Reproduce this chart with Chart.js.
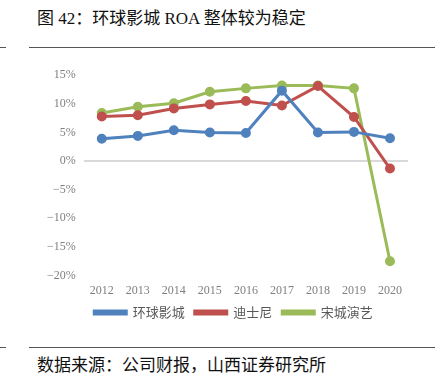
<!DOCTYPE html>
<html>
<head>
<meta charset="utf-8">
<script src="https://cdn.jsdelivr.net/npm/chart.js@4/dist/chart.umd.min.js"></script>
<style>
body { margin:0; background:#fff; width:443px; height:377px; position:relative; overflow:hidden; font-family:"Liberation Serif","Noto Sans CJK SC",serif; }
#title { position:absolute; left:37px; top:4px; font-size:17px; color:#111; }
.rule { position:absolute; height:1px; background:#555; }
#foot { position:absolute; left:37px; top:351px; font-size:17px; color:#111; font-family:"Noto Sans CJK SC",sans-serif; }
#box { position:absolute; left:30px; top:60px; width:400px; height:275px; }
</style>
</head>
<body>
<div id="title">图 42：环球影城 ROA 整体较为稳定</div>
<div class="rule" style="left:0;top:47px;width:6px"></div>
<div class="rule" style="left:29px;top:47px;width:406px"></div>
<div class="rule" style="left:0;top:347px;width:6px"></div>
<div class="rule" style="left:29px;top:347px;width:406px"></div>
<div id="box"><canvas id="myChart" width="400" height="275"></canvas></div>
<div id="foot">数据来源：公司财报，山西证券研究所</div>
<script>
// years along the x-axis
var years = ['2012','2013','2014','2015','2016','2017','2018','2019','2020'];
// ROA, %
var universal = [3.9,4.4,5.4,5.0,4.9,12.3,5.0,5.1,4.0];
var disney = [7.8,8.0,9.2,9.9,10.5,9.7,13.1,7.7,-1.3];
var songcheng = [8.4,9.5,10.1,12.1,12.7,13.2,13.2,12.7,-17.5];

function series(name, vals, color){
  return {
    label: name,
    data: vals,
    borderColor: color,
    backgroundColor: color,
    borderWidth: 3,
    pointRadius: 3.5,
    pointHoverRadius: 3.5,
    fill: false,
    tension: 0
  };
}

// nudge the legend right a bit and put a dot on each legend line
var legendDots = {
  id: 'legendDots',
  afterLayout: function(chart){
    var lg = chart.legend;
    lg.left += 10;
    lg.right += 10;
    lg.adjustHitBoxes();
  },
  afterDraw: function(chart){
    var boxes = chart.legend.legendHitBoxes;
    var c = chart.ctx;
    boxes.forEach(function(b, i){
      var ds = chart.data.datasets[i];
      c.save();
      c.fillStyle = ds.borderColor;
      c.beginPath();
      c.arc(b.left + 16, b.top + b.height / 2, 3, 0, Math.PI * 2);
      c.fill();
      c.restore();
    });
  }
};

var ctx = document.getElementById('myChart');
var myChart = new Chart(ctx, {
  type: 'line',
  data: {
    labels: years,
    datasets: [
      series('环球影城', universal, '#4F81BD'),
      series('迪士尼', disney, '#C0504D'),
      series('宋城演艺', songcheng, '#9BBB59')
    ]
  },
  plugins: [legendDots],
  options: {
    responsive: false,
    animation: false,
    devicePixelRatio: 1,
    layout: { padding: { left: 9, right: 22, top: 10, bottom: 6 } },
    plugins: {
      tooltip: { enabled: false },
      legend: {
        position: 'bottom',
        labels: {
          boxWidth: 32,
          boxHeight: 3,
          color: '#595959',
          font: { family: '"Noto Sans CJK SC"', size: 13 },
          padding: 10
        }
      }
    },
    scales: {
      x: {
        offset: true,
        afterFit: function(s){ s.height -= 2; },
        grid: { display: false },
        border: { display: false },
        ticks: { padding: 0, color: '#7f7f7f', font: { family: '"Liberation Serif"', size: 12 }, maxRotation: 0 }
      },
      y: {
        min: -20,
        max: 15,
        ticks: {
          stepSize: 5,
          padding: 8,
          color: '#7f7f7f',
          font: { family: '"Liberation Serif"', size: 12 },
          callback: function(v){ return (v < 0 ? '\u2212' + (-v) : v) + '%'; }
        },
        border: { display: false },
        grid: {
          color: function(c){ return c.tick && c.tick.value === 0 ? '#d9d9d9' : 'rgba(0,0,0,0)'; },
          lineWidth: 2,
          drawTicks: false
        }
      }
    }
  }
});
</script>
</body>
</html>
